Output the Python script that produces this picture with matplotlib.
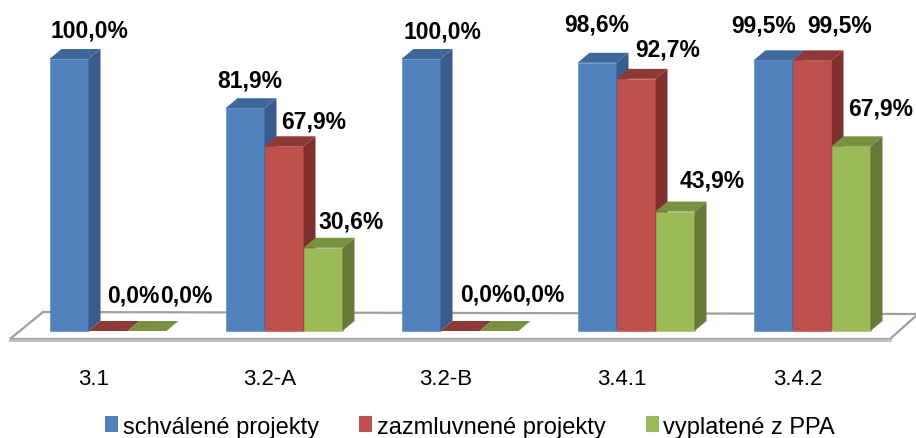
import matplotlib.pyplot as plt
from matplotlib.patches import Polygon, Patch

plt.rcParams['font.family'] = ['Liberation Sans', 'DejaVu Sans']

categories = ['3.1', '3.2-A', '3.2-B', '3.4.1', '3.4.2']
schvalene = [100.0, 81.9, 100.0, 98.6, 99.5]
zazmluvnene = [0.0, 67.9, 0.0, 92.7, 99.5]
vyplatene = [0.0, 30.6, 0.0, 43.9, 67.9]
series_names = ['schválené projekty', 'zazmluvnené projekty', 'vyplatené z PPA']

series = [schvalene, zazmluvnene, vyplatene]
# front, side, top colours
colors = [('#4F81BD', '#385D8A', '#3E689B'),
          ('#C0504D', '#7D302E', '#8E3936'),
          ('#9BBB59', '#667B38', '#78923F')]

PX = 1 / 176.0      # one pixel in x (group units)
PY = 1 / 2.72       # one pixel in y (percent units)
W = 39 * PX         # bar width
DX = 12 * PX        # depth offset x
DY = 10 * PY        # depth offset y

# label nudges in pixels (x from bar front centre, y above back top edge)
nudge_x = [[20, 5, 21, 0, -9],
           [25, 30, 26, 32, 28],
           [39, 28, 39, 37, 30]]
nudge_y = [[12, 12, 11, 22, 19],
           [19, 9, 20, 13, 19],
           [19, 10, 20, 15, 22]]

fig = plt.figure(figsize=(9.16, 4.39), dpi=100)
ax = fig.add_axes([0, 0, 1, 1])
ax.set_xlim(-108 * PX, 808 * PX)
ax.set_ylim(-107 * PY, 332 * PY)
ax.axis('off')

# floor
x0, x1 = ax.get_xlim()
fl_front = -8 * PY
fl_back = 19 * PY
floor = Polygon([(x0 + 10 * PX, fl_front), (x0 + 890 * PX, fl_front),
                 (x0 + 918 * PX, fl_back - 2 * PY), (x0 + 43 * PX, fl_back)],
                closed=True, facecolor='white', edgecolor='#A0A0A0', lw=1.6, zorder=1)
ax.add_patch(floor)
ax.plot([x0 + 10 * PX, x0 + 890 * PX], [fl_front - 1.2 * PY, fl_front - 1.2 * PY],
        color='#BDBDBD', lw=2, zorder=1)

for i, cat in enumerate(categories):
    for j, vals in enumerate(series):
        v = vals[i]
        front, side, top = colors[j]
        left = i + (j - 1) * W - W / 2
        right = left + W
        z = 2 + j
        if v > 0:
            ax.bar(left, v, width=W, align='edge', color=front, edgecolor=front,
                   linewidth=0.4, zorder=z)
            ax.add_patch(Polygon([(right, 0), (right + DX, DY), (right + DX, v + DY), (right, v)],
                                 closed=True, facecolor=side, edgecolor='none', zorder=z))
        ax.add_patch(Polygon([(left, v), (right, v), (right + DX, v + DY), (left + DX, v + DY)],
                             closed=True, facecolor=top, edgecolor='none', zorder=z))
        lbl = ('%.1f%%' % v).replace('.', ',')
        ax.text(left + W / 2 + nudge_x[j][i] * PX, v + DY + nudge_y[j][i] * PY, lbl,
                ha='center', va='baseline', fontsize=16.5, fontweight='bold',
                color='black', zorder=10)
    ax.text(i - 14 * PX, -48 * PY, cat, ha='center', va='center', fontsize=16)

handles = [Patch(facecolor=c[0], edgecolor='none') for c in colors]
ax.legend(handles, series_names, loc='center', bbox_to_anchor=(0.513, 0.026),
          ncol=3, frameon=False, fontsize=17, handlelength=0.55, handleheight=0.65,
          handletextpad=0.2, columnspacing=1.7, borderaxespad=0)

fig.savefig('out.png', dpi=100)
